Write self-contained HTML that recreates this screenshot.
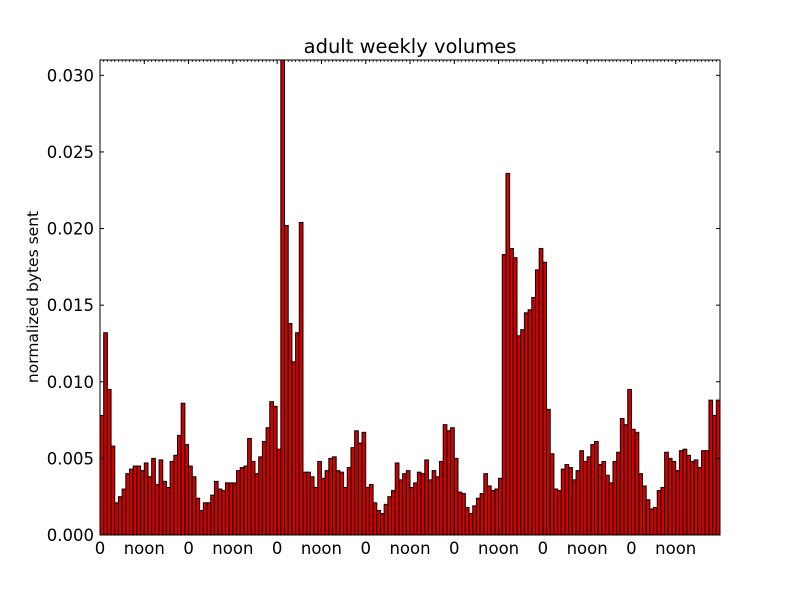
<!DOCTYPE html>
<html><head><meta charset="utf-8"><style>
html,body{margin:0;padding:0;background:#fff;}
svg text{font-family:"DejaVu Sans","Liberation Sans",sans-serif;}
</style></head><body>
<svg id="chart" width="800" height="595" viewBox="0 0 800 595" xmlns="http://www.w3.org/2000/svg">
<rect x="0" y="0" width="800" height="595" fill="#fff"/>
<text x="410" y="53" font-size="19.5" text-anchor="middle" fill="#000">adult weekly volumes</text>
<text x="0" y="0" font-size="15.5" text-anchor="middle" transform="translate(38,297) rotate(-90)" fill="#000">normalized bytes sent</text>
<defs><clipPath id="pc"><rect x="100" y="60" width="620" height="475"/></clipPath></defs>
<g id="bars" clip-path="url(#pc)"></g>
<g id="axes"></g>
</svg>
<script>
const values = [
0.0078,0.0132,0.0095,0.0058,0.0021,0.0025,0.0030,0.0040,0.0043,0.0045,0.0045,0.0042,0.0047,0.0038,0.0050,0.0033,0.0049,0.0035,0.0031,0.0048,0.0052,0.0065,0.0086,0.0059,
0.0045,0.0038,0.0024,0.0016,0.0021,0.0021,0.0026,0.0035,0.0030,0.0029,0.0034,0.0034,0.0034,0.0042,0.0044,0.0045,0.0063,0.0048,0.0040,0.0051,0.0061,0.0070,0.0087,0.0084,
0.0056,0.0320,0.0202,0.0138,0.0113,0.0132,0.0204,0.0041,0.0041,0.0038,0.0031,0.0048,0.0037,0.0042,0.0050,0.0051,0.0042,0.0041,0.0031,0.0044,0.0057,0.0068,0.0060,0.0067,
0.0031,0.0033,0.0021,0.0016,0.0014,0.0020,0.0025,0.0029,0.0047,0.0036,0.0040,0.0042,0.0031,0.0034,0.0041,0.0040,0.0049,0.0036,0.0042,0.0038,0.0048,0.0072,0.0068,0.0070,
0.0050,0.0028,0.0027,0.0018,0.0014,0.0019,0.0024,0.0027,0.0040,0.0032,0.0029,0.0030,0.0037,0.0183,0.0236,0.0187,0.0181,0.0130,0.0134,0.0145,0.0147,0.0155,0.0173,0.0187,
0.0178,0.0082,0.0053,0.0030,0.0029,0.0043,0.0046,0.0044,0.0036,0.0042,0.0055,0.0048,0.0051,0.0059,0.0061,0.0046,0.0048,0.0039,0.0034,0.0048,0.0054,0.0076,0.0072,0.0095,
0.0069,0.0067,0.0040,0.0032,0.0023,0.0017,0.0018,0.0029,0.0031,0.0054,0.0050,0.0048,0.0042,0.0055,0.0056,0.0052,0.0048,0.0049,0.0044,0.0055,0.0055,0.0088,0.0078,0.0088
];
const yTicks = [0,0.005,0.010,0.015,0.020,0.025,0.030];
const yTickLabels = ["0.000","0.005","0.010","0.015","0.020","0.025","0.030"];
const xTicks = [0,12,24,36,48,60,72,84,96,108,120,132,144,156];
const xTickLabels = ["0","noon","0","noon","0","noon","0","noon","0","noon","0","noon","0","noon"];

const L=100,R=720,T=60,B=535,XMAX=168,YMAX=0.031;
const xs=v=>L+(v/XMAX)*(R-L);
const ys=v=>B-(v/YMAX)*(B-T);
const NS="http://www.w3.org/2000/svg";
function mk(tag,attrs,parent){const e=document.createElementNS(NS,tag);for(const k in attrs)e.setAttribute(k,attrs[k]);parent.appendChild(e);return e;}
const bars=document.getElementById('bars'),axes=document.getElementById('axes');
values.forEach((v,i)=>{
  const x0=xs(i),x1=xs(i+1),y=ys(v);
  const r=mk('rect',{x:x0,y:y,width:x1-x0,height:B-y,fill:'#d40000',stroke:'#000','stroke-width':1},bars);
  
  
});
const fr=mk('rect',{x:L,y:T,width:R-L,height:B-T,fill:'none',stroke:'#000','stroke-width':1},axes);


for(let h=0;h<=XMAX;h++){const x=xs(h);
  mk('line',{x1:x,y1:T,x2:x,y2:T+2,stroke:'#000','stroke-width':0.8},axes);
  mk('line',{x1:x,y1:B,x2:x,y2:B-2,stroke:'#000','stroke-width':0.8},axes);}
yTicks.forEach((v,i)=>{const y=ys(v);
  mk('line',{x1:L,y1:y,x2:L+4,y2:y,stroke:'#000'},axes);
  mk('line',{x1:R,y1:y,x2:R-4,y2:y,stroke:'#000'},axes);
  const t=mk('text',{x:L-6,y:y+6,'font-size':16.5,'text-anchor':'end',fill:'#000'},axes);
  t.textContent=yTickLabels[i];
  
  
});
xTicks.forEach((h,i)=>{const x=xs(h);
  mk('line',{x1:x,y1:B,x2:x,y2:B-4,stroke:'#000'},axes);
  mk('line',{x1:x,y1:T,x2:x,y2:T+4,stroke:'#000'},axes);
  const t=mk('text',{x:x,y:554,'font-size':16.5,'text-anchor':'middle',fill:'#000'},axes);
  t.textContent=xTickLabels[i];
  
  
});
</script>
</body></html>
